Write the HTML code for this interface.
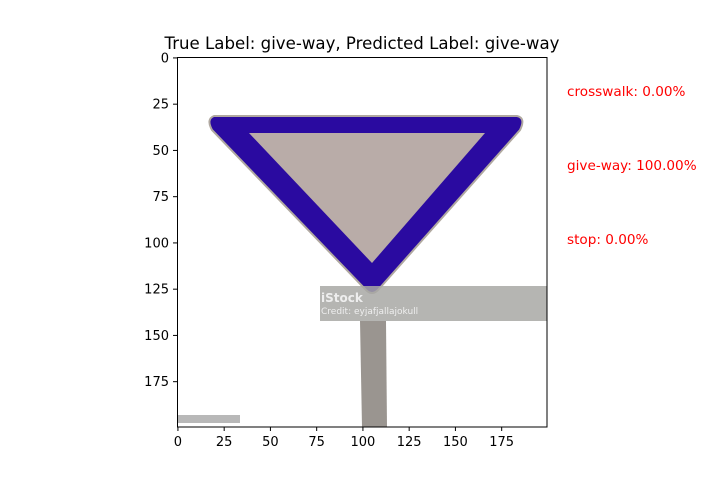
<!DOCTYPE html>
<html><head><meta charset="utf-8"><style>
body{margin:0;background:#fff;}
svg{display:block;font-family:"DejaVu Sans","Liberation Sans",sans-serif;}
</style></head><body>
<svg width="706" height="480" viewBox="0 0 706 480">
<text x="362" y="49" font-size="16.6" text-anchor="middle" fill="#000">True Label: give-way, Predicted Label: give-way</text>
<g>
<rect x="177" y="57" width="370" height="370" fill="#fff"/>
<polygon points="360,321 386,321 387,427 362,427" fill="#9a9590"/>
<path d="M214,116 L517,116 Q526,118 520,130 L378,290 Q372,296 366,290 L212,130 Q206,119 214,116 Z" fill="#2a0aa0" stroke="#b0a8a0" stroke-width="2"/>
<polygon points="249,133 485,133 372,263" fill="#b9aca8"/>
<rect x="320" y="286" width="227" height="35" fill="#a8a8a4" opacity="0.85"/>
<text x="321" y="302" font-size="12" fill="#eee" font-weight="bold">iStock</text>
<text x="321" y="314" font-size="9" fill="#eee">Credit: eyjafjallajokull</text>
<rect x="178" y="415" width="62" height="8" fill="#b8b8b8"/>
</g>
<rect x="177.5" y="57.5" width="369.5" height="369.5" fill="none" stroke="#000" stroke-width="1"/>
<g id="ticks"></g>
<text x="567" y="96" font-size="13.6" fill="red">crosswalk: 0.00%</text>
<text x="567" y="170" font-size="13.6" fill="red">give-way: 100.00%</text>
<text x="567" y="244" font-size="13.6" fill="red">stop: 0.00%</text>
</svg>
<script>
const xTicks=[0,25,50,75,100,125,150,175];
const yTicks=[0,25,50,75,100,125,150,175];
const g=document.getElementById('ticks');
const ns='http://www.w3.org/2000/svg';
const sx=v=>177+(v+0.5)*1.85, sy=v=>57+(v+0.5)*1.85;
xTicks.forEach(v=>{
 const l=document.createElementNS(ns,'line');
 l.setAttribute('x1',sx(v));l.setAttribute('x2',sx(v));l.setAttribute('y1',427);l.setAttribute('y2',431);l.setAttribute('stroke','#000');
 
 
 g.appendChild(l);
 const t=document.createElementNS(ns,'text');
 t.setAttribute('x',sx(v));t.setAttribute('y',446);t.setAttribute('font-size','13');t.setAttribute('text-anchor','middle');
 t.textContent=v;
 
 
 g.appendChild(t);
});
yTicks.forEach(v=>{
 const l=document.createElementNS(ns,'line');
 l.setAttribute('x1',173);l.setAttribute('x2',177);l.setAttribute('y1',sy(v));l.setAttribute('y2',sy(v));l.setAttribute('stroke','#000');
 
 
 g.appendChild(l);
 const t=document.createElementNS(ns,'text');
 t.setAttribute('x',169);t.setAttribute('y',sy(v)+4.5);t.setAttribute('font-size','13');t.setAttribute('text-anchor','end');
 t.textContent=v;
 
 
 g.appendChild(t);
});
</script>
</body></html>
